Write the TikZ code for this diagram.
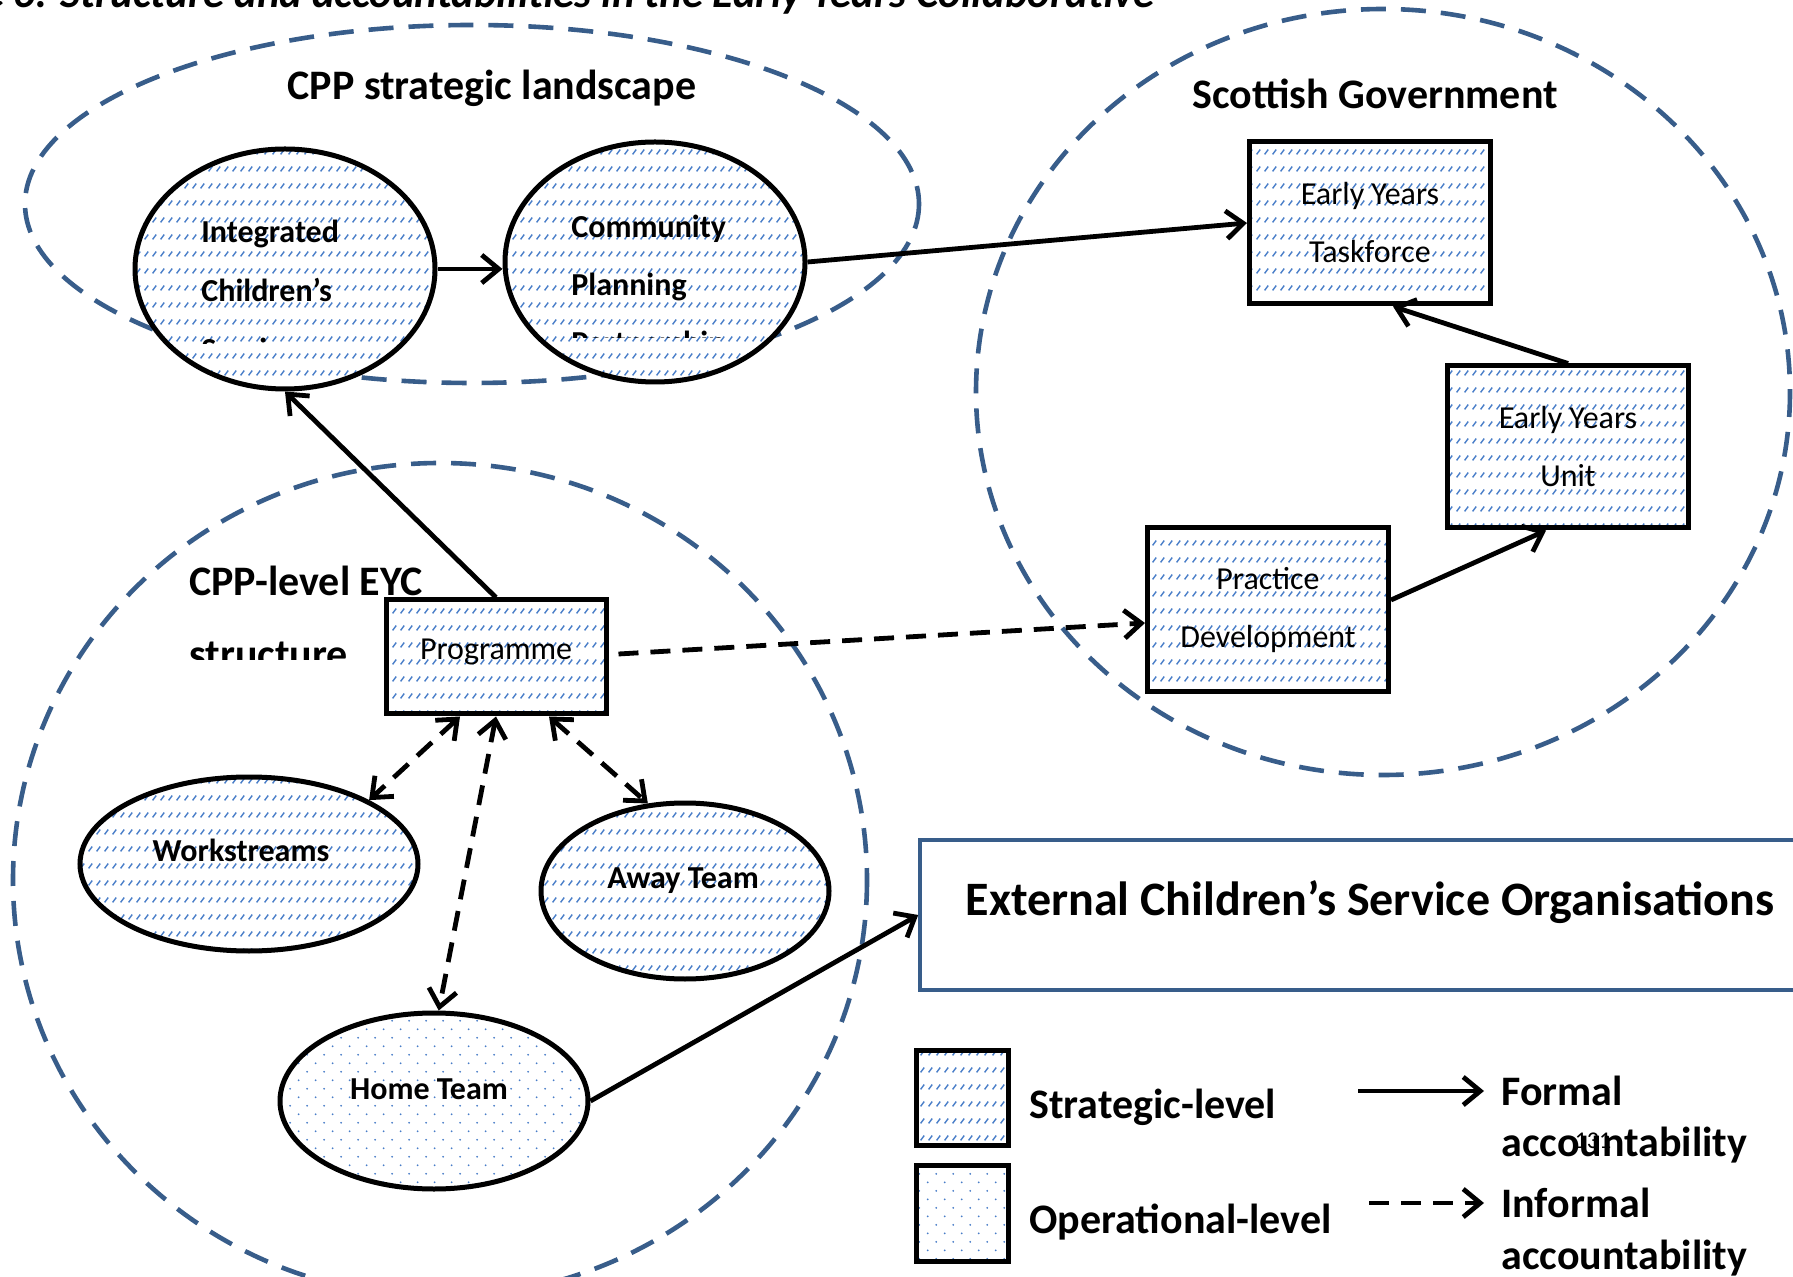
\documentclass[tikz,border=0pt]{standalone}
\usepackage{fontspec}
\setmainfont{Carlito}
\usetikzlibrary{arrows.meta,patterns,calc,shapes.geometric}

\definecolor{outlineblue}{RGB}{56,93,138}
\definecolor{hatchblue}{RGB}{72,125,200}

% rows of short slanted strokes (strategic level)
\pgfdeclarepatternformonly{slashrows}{\pgfqpoint{-0.5pt}{-0.5pt}}{\pgfqpoint{4.5pt}{9pt}}{\pgfqpoint{4pt}{8.5pt}}{%
  \pgfsetlinewidth{0.7pt}%
  \pgfpathmoveto{\pgfqpoint{0.3pt}{0.3pt}}%
  \pgfpathlineto{\pgfqpoint{2.1pt}{2.7pt}}%
  \pgfusepath{stroke}}
% staggered fine dots (operational level)
\pgfdeclarepatternformonly{dotgrid}{\pgfqpoint{-0.5pt}{-0.5pt}}{\pgfqpoint{9pt}{9pt}}{\pgfqpoint{8.5pt}{8.5pt}}{%
  \pgfpathcircle{\pgfqpoint{0.6pt}{0.6pt}}{0.5pt}%
  \pgfpathcircle{\pgfqpoint{4.85pt}{4.85pt}}{0.5pt}%
  \pgfusepath{fill}}

\newcommand\hdfont{\bfseries\fontsize{21}{25}\selectfont}
\newcommand\elfont{\bfseries\fontsize{16}{20}\selectfont}
\newcommand\bxfont{\fontsize{16}{29}\selectfont}

\tikzset{
  ring/.style={draw=outlineblue, line width=2.3pt, dash pattern=on 12.5pt off 7.5pt},
  strategic/.style={draw=black, line width=2.5pt, preaction={fill=white},
    pattern=slashrows, pattern color=hatchblue, inner sep=0pt},
  operational/.style={draw=black, line width=2.5pt, preaction={fill=white},
    pattern=dotgrid, pattern color=hatchblue, inner sep=0pt},
  lbl/.style={inner sep=0pt},
  formal/.style={line width=2.4pt, -{Straight Barb[length=8.5pt,width=14pt]}},
  informal/.style={formal, dash pattern=on 10pt off 6pt},
  mutual/.style={informal, {Straight Barb[length=8.5pt,width=14pt]}-{Straight Barb[length=8.5pt,width=14pt]}},
}

\begin{document}
\begin{tikzpicture}[x=0.5pt,y=-0.5pt]
\clip (0,0) rectangle (1793,1277);
\fill[white] (0,0) rectangle (1793,1277);

% caption
\node[lbl, anchor=base east, font=\bfseries\itshape\fontsize{21.5}{25}\selectfont] (title) at (1155,8)
  {Figure 6: Structure and accountabilities in the Early Years Collaborative};

% the three groupings
\draw[ring] (472,204) ellipse [x radius=447, y radius=179];
\draw[ring] (1383,392) ellipse [x radius=407, y radius=383];
\draw[ring] (440,880) ellipse [x radius=427, y radius=417];

\node[lbl, anchor=base, font=\hdfont] (landscape) at (492,100) {CPP strategic landscape};
\node[lbl, anchor=base, font=\hdfont] (scotgov) at (1375,109) {Scottish Government};
\node[lbl, anchor=base west, font=\hdfont] (eyc) at (189,596) {CPP-level EYC};
\begin{scope}
  \clip (150,610) rectangle (420,660);
  \node[lbl, anchor=base west, font=\hdfont] (eyc2) at (189,669) {structure};
\end{scope}

% CPP strategic landscape
\node[strategic, ellipse, minimum width=150pt, minimum height=120pt] (ics) at (285,269) {};
\node[strategic, ellipse, minimum width=150pt, minimum height=120pt] (cpp) at (655,262) {};
\node[lbl, anchor=base west, font=\elfont] (ics1) at (201,243) {Integrated};
\node[lbl, anchor=base west, font=\elfont] (ics2) at (201,302) {Children’s};
\begin{scope}
  \clip (140,310) rectangle (430,344);
  \node[lbl, anchor=base west, font=\elfont] (ics3) at (201,361) {Services};
\end{scope}
\node[lbl, anchor=base west, font=\elfont] (cpp1) at (571,238) {Community};
\node[lbl, anchor=base west, font=\elfont] (cpp2) at (571,296) {Planning};
\begin{scope}
  \clip (510,305) rectangle (800,338);
  \node[lbl, anchor=base west, font=\elfont] (cpp3) at (571,354) {Partnership};
\end{scope}

% Scottish Government
\node[strategic, rectangle, minimum width=120.5pt, minimum height=81pt, align=center, font=\bxfont] (task) at (1370,223) {Early Years\\Taskforce};
\node[strategic, rectangle, minimum width=120.5pt, minimum height=81pt, align=center, font=\bxfont] (unit) at (1568,447) {Early Years\\Unit};
\node[strategic, rectangle, minimum width=120.5pt, minimum height=82pt, align=center, font=\bxfont] (pd) at (1268,610) {Practice\\Development};

% CPP-level EYC structure
\node[strategic, rectangle, minimum width=110pt, minimum height=57pt] (prog) at (496,657) {};
\node[lbl, anchor=base, font=\bxfont] (progt) at (496,660) {Programme};
\node[strategic, ellipse, minimum width=169pt, minimum height=87pt] (ws) at (249,864) {};
\node[lbl, anchor=base, font=\elfont] (wst) at (241,861) {Workstreams};
\node[strategic, ellipse, minimum width=144pt, minimum height=88pt] (away) at (685,891) {};
\node[lbl, anchor=base, font=\elfont] (awayt) at (683,888) {Away Team};
\node[operational, ellipse, minimum width=154pt, minimum height=88pt] (home) at (434,1101) {};
\node[lbl, anchor=base, font=\elfont] (homet) at (429,1099) {Home Team};

% external organisations
\node[draw=outlineblue, line width=1.8pt, fill=white, minimum width=445pt, minimum height=75pt, inner sep=0pt] (ext) at (1365,915) {};
\node[lbl, anchor=base, font=\bfseries\fontsize{24}{28}\selectfont] (extt) at (1370,915) {External Children’s Service Organisations};

% accountability lines
\draw[formal] (ics.east) -- (cpp.west |- ics.east);
\draw[formal] (cpp.east) -- (task.west);
\draw[formal] (unit.north) -- ($(task.south)+(23,0)$);
\draw[formal] ($(pd.east)+(0,-10)$) -- ($(unit.south)+(-22,0)$);
\draw[formal] (prog.north) -- (ics.south);
\draw[informal] ($(prog.east)+(10,-3)$) -- ($(pd.west)+(0,13)$);
\draw[mutual] ($(prog.south)+(-36,0)$) -- (ws.28);
\draw[mutual] (prog.south) -- (home.87);
\draw[mutual] ($(prog.south)+(53,0)$) -- (away.113);
\draw[formal] (home.east) -- (ext.west);

% key
\node[strategic, rectangle, minimum width=46pt, minimum height=47.5pt] (keys) at (962,1098) {};
\node[operational, rectangle, minimum width=46pt, minimum height=48pt] (keyo) at (962,1213) {};
\node[lbl, anchor=base west, font=\hdfont] (keyst) at (1029,1118) {Strategic-level};
\node[lbl, anchor=base west, font=\hdfont] (keyot) at (1029,1233) {Operational-level};
\coordinate (f0) at (1358,1091);
\coordinate (f1) at (1484,1091);
\coordinate (i0) at (1369,1203);
\coordinate (i1) at (1484,1203);
\draw[formal] (f0) -- (f1);
\draw[informal] (i0) -- (i1);
\node[lbl, anchor=base west, font=\hdfont] (fa) at (1501,1105) {Formal};
\node[lbl, anchor=base west, font=\hdfont] (fb) at (1501,1156) {accountability};
\node[lbl, anchor=base west, font=\hdfont] (ia) at (1501,1217) {Informal};
\node[lbl, anchor=base west, font=\hdfont] (ib) at (1501,1269) {accountability};
\node[lbl, anchor=base, font=\fontsize{12}{14}\selectfont] (pg) at (1593,1148) {131};
\end{tikzpicture}
\end{document}
